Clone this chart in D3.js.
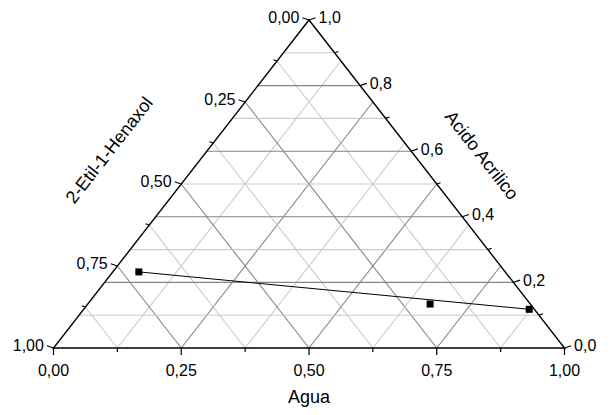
<!DOCTYPE html>
<html lang="en">
<head>
    <meta charset="UTF-8">
    <title>Ternary Diagram</title>
    <script src="https://d3js.org/d3.v7.min.js"></script>
    <style>
        body {
            margin: 0;
            padding: 0;
            background-color: #ffffff;
        }
        svg text {
            font-family: 'Liberation Sans', Arial, sans-serif;
            fill: #000;
        }
    </style>
</head>
<body>
<svg id="chart" width="613" height="415"></svg>

<script>
    // axis titles
    const bottomTitle = "Agua";
    const rightTitle = "Acido Acrilico";
    const leftTitle = "2-Etil-1-Henaxol";

    // tick values and labels
    const bottomTicks = [0, 0.25, 0.5, 0.75, 1];
    const bottomLabels = ["0,00", "0,25", "0,50", "0,75", "1,00"];
    const leftTicks = [0, 0.25, 0.5, 0.75, 1];
    const leftLabels = ["0,00", "0,25", "0,50", "0,75", "1,00"];
    const rightTicks = [0, 0.2, 0.4, 0.6, 0.8, 1];
    const rightLabels = ["0,0", "0,2", "0,4", "0,6", "0,8", "1,0"];

    // measured points (water fraction, acrylic acid fraction)
    const water = [0.051, 0.670, 0.872];
    const acid = [0.232, 0.134, 0.118];
    // points joined by the line
    const tieLine = [0, 2];

    const svg = d3.select("#chart");

    const x = d3.scaleLinear().domain([0, 1]).range([53.5, 564.5]);
    const y = d3.scaleLinear().domain([0, 1]).range([348, 20]);

    // w = water, a = acid, hexanol = 1 - w - a
    const px = (w, a) => x(w + a / 2);
    const py = (w, a) => y(a);

    const grid = svg.append("g");

    function gridLine(p1, p2, major) {
        grid.append("line")
            .attr("x1", px(p1[0], p1[1])).attr("y1", py(p1[0], p1[1]))
            .attr("x2", px(p2[0], p2[1])).attr("y2", py(p2[0], p2[1]))
            .attr("stroke", major ? "#858585" : "#cbcbcb")
            .attr("stroke-width", 1.1);
    }

    // water and hexanol lines every 0.125
    d3.range(1, 8).forEach(i => {
        const v = i / 8;
        const major = i % 2 === 0;
        gridLine([v, 0], [v, 1 - v], major);          // water const
        gridLine([1 - v, 0], [0, 1 - v], major);      // hexanol const
    });

    // acid lines every 0.1
    d3.range(1, 10).forEach(i => {
        const a = i / 10;
        gridLine([0, a], [1 - a, a], i % 2 === 0);
    });

    // triangle frame
    const corners = [[0, 0], [1, 0], [0, 1]];
    svg.append("path")
        .attr("d", d3.line()(corners.map(c => [px(c[0], c[1]), py(c[0], c[1])])) + "Z")
        .attr("fill", "none")
        .attr("stroke", "#000")
        .attr("stroke-width", 1.4)
        .attr("stroke-linejoin", "miter");

    const axes = svg.append("g");
    const fs = 16;
    const leftDir = [-Math.cos(19 * Math.PI / 180), -Math.sin(19 * Math.PI / 180)];
    const rightDir = [Math.cos(19 * Math.PI / 180), -Math.sin(19 * Math.PI / 180)];

    function tick(x0, y0, dx, dy, len) {
        axes.append("line")
            .attr("x1", x0).attr("y1", y0)
            .attr("x2", x0 + dx * len).attr("y2", y0 + dy * len)
            .attr("stroke", "#000").attr("stroke-width", 1.2);
    }

    // bottom axis (water)
    d3.range(0, 9).forEach(i => {
        const w = i / 8;
        tick(px(w, 0), py(w, 0), 0, 1, i % 2 === 0 ? 7 : 4);
    });
    bottomTicks.forEach((w, i) => {
        axes.append("text")
            .attr("x", px(w, 0)).attr("y", py(w, 0) + 28)
            .attr("text-anchor", "middle")
            .style("font-size", fs + "px")
            .text(bottomLabels[i]);
    });

    // left axis (hexanol): 0 at top, 1 at bottom-left
    d3.range(0, 9).forEach(i => {
        const h = i / 8;
        tick(px(0, 1 - h), py(0, 1 - h), leftDir[0], leftDir[1], i % 2 === 0 ? 7 : 4);
    });
    leftTicks.forEach((h, i) => {
        const ex = px(0, 1 - h) + leftDir[0] * 7;
        const ey = py(0, 1 - h) + leftDir[1] * 7;
        axes.append("text")
            .attr("x", ex - 3).attr("y", ey)
            .attr("dy", "0.35em")
            .attr("text-anchor", "end")
            .style("font-size", fs + "px")
            .text(leftLabels[i]);
    });

    // right axis (acid): 0 at bottom-right, 1 at top
    d3.range(0, 11).forEach(i => {
        const a = i / 10;
        tick(px(1 - a, a), py(1 - a, a), rightDir[0], rightDir[1], i % 2 === 0 ? 7 : 4);
    });
    rightTicks.forEach((a, i) => {
        const ex = px(1 - a, a) + rightDir[0] * 7;
        const ey = py(1 - a, a) + rightDir[1] * 7;
        axes.append("text")
            .attr("x", ex + 3).attr("y", ey)
            .attr("dy", "0.35em")
            .attr("text-anchor", "start")
            .style("font-size", fs + "px")
            .text(rightLabels[i]);
    });

    // axis titles
    svg.append("text")
        .attr("x", px(0.5, 0)).attr("y", 403)
        .attr("text-anchor", "middle")
        .style("font-size", "18px")
        .text(bottomTitle);

    svg.append("text")
        .attr("transform", "translate(109,150) rotate(-52)")
        .attr("text-anchor", "middle")
        .attr("dy", "0.35em")
        .style("font-size", "18px")
        .text(leftTitle);

    svg.append("text")
        .attr("transform", "translate(482,155) rotate(52)")
        .attr("text-anchor", "middle")
        .attr("dy", "0.35em")
        .style("font-size", "18px")
        .text(rightTitle);

    // data
    const pts = water.map((w, i) => ({w: w, a: acid[i]}));

    svg.append("path")
        .datum(tieLine.map(i => pts[i]))
        .attr("d", d3.line().x(d => px(d.w, d.a)).y(d => py(d.w, d.a)))
        .attr("fill", "none")
        .attr("stroke", "#000")
        .attr("stroke-width", 1);

    svg.selectAll(".pt")
        .data(pts)
        .enter().append("rect")
        .attr("class", "pt")
        .attr("x", d => px(d.w, d.a) - 3.5)
        .attr("y", d => py(d.w, d.a) - 3.5)
        .attr("width", 7)
        .attr("height", 7)
        .attr("fill", "#000");
</script>
</body>
</html>
